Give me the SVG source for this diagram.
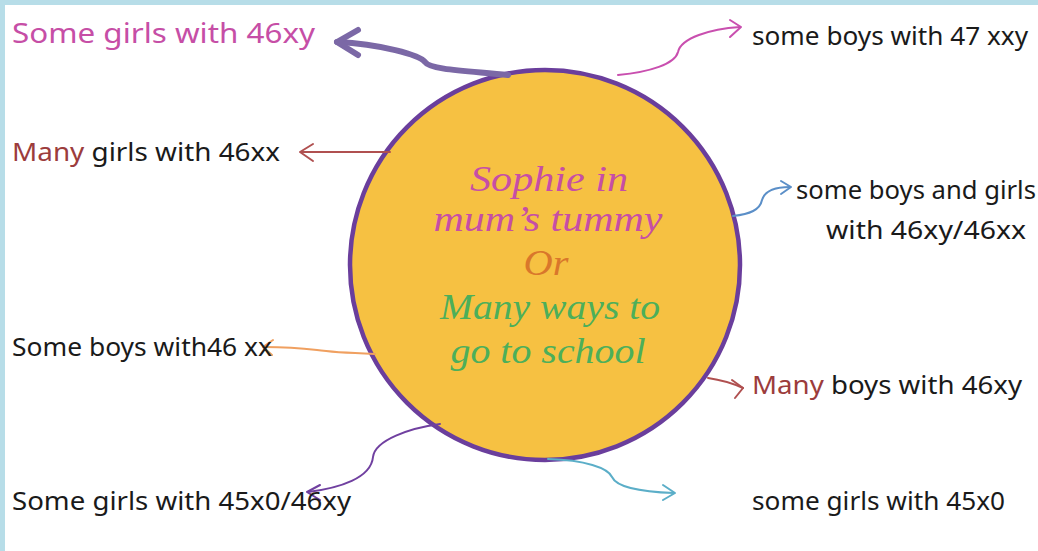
<svg xmlns="http://www.w3.org/2000/svg" width="1038" height="551" viewBox="0 0 1038 551">
<style>
.lbl{font-family:"Noto Sans","DejaVu Sans",sans-serif;font-size:25px;fill:#1a1a1a}
.big{font-size:28px;fill:#C64EA6}
.red{fill:#9C3C3C}
.ctr{font-family:"Liberation Serif","DejaVu Serif",serif;font-style:italic;font-size:36px;text-anchor:middle}
.conn{fill:none;stroke-linecap:round;stroke-linejoin:round}
</style>
<rect x="0" y="0" width="1038" height="551" fill="#B7DDE8"/>
<rect x="5" y="5" width="1033" height="546" fill="#FFFFFF"/>

<g id="hub">
<circle cx="545" cy="265" r="195" fill="#F6C142" stroke="#6A3E9C" stroke-width="4.5"/>
<text class="ctr" x="549" y="191" fill="#C64EA6" textLength="158" lengthAdjust="spacingAndGlyphs">Sophie in</text>
<text class="ctr" x="548" y="231" fill="#C64EA6" textLength="229" lengthAdjust="spacingAndGlyphs">mum’s tummy</text>
<text class="ctr" x="546" y="275" fill="#D9772B" textLength="45" lengthAdjust="spacingAndGlyphs">Or</text>
<text class="ctr" x="550" y="319" fill="#4CAF5A" textLength="220" lengthAdjust="spacingAndGlyphs">Many ways to</text>
<text class="ctr" x="548" y="363" fill="#4CAF5A" textLength="195" lengthAdjust="spacingAndGlyphs">go to school</text>
</g>

<g id="connectors">
<path class="conn" d="M508,75 C470,71 430,70 425,62 C420,55 380,44 337,42" stroke="#7B68A6" stroke-width="6"/>
<path class="conn" d="M358,30 L337,42 L358,55" stroke="#7B68A6" stroke-width="6"/>

<path class="conn" d="M618,75 C650,72 675,64 678,52 C681,38 710,29 740,27" stroke="#C94FAF" stroke-width="2"/>
<path class="conn" d="M730,20 L741,27 L730,37" stroke="#C94FAF" stroke-width="2"/>

<path class="conn" d="M390,152 L301,152" stroke="#B05050" stroke-width="2"/>
<path class="conn" d="M313,144 L300,152 L313,161" stroke="#B05050" stroke-width="2"/>

<path class="conn" d="M733,216 C750,214 760,210 762,200 C765,190 775,187 790,187" stroke="#5B8FC8" stroke-width="2"/>
<path class="conn" d="M781,181 L791,187 L781,194" stroke="#5B8FC8" stroke-width="2"/>

<path class="conn" d="M375,354 C350,353 330,352 317,350 C300,348 285,347 264,347" stroke="#F0A060" stroke-width="2"/>
<path class="conn" d="M273,340 L263,347 L272,355" stroke="#F0A060" stroke-width="2"/>

<path class="conn" d="M708,378 C722,380 732,383 743,388" stroke="#B05050" stroke-width="2"/>
<path class="conn" d="M732,380 L743,388 L735,398" stroke="#B05050" stroke-width="2"/>

<path class="conn" d="M440,424 C410,428 375,440 373,457 C371,478 340,488 308,492" stroke="#7040A0" stroke-width="2"/>
<path class="conn" d="M320,485 L307,492 L320,500" stroke="#7040A0" stroke-width="2"/>

<path class="conn" d="M548,459 C585,460 608,468 612,477 C617,488 645,492 674,493" stroke="#5BAEC8" stroke-width="2"/>
<path class="conn" d="M663,485 L675,493 L663,500" stroke="#5BAEC8" stroke-width="2"/>
</g>

<g id="n1"><text class="lbl big" x="12" y="43" textLength="303" lengthAdjust="spacingAndGlyphs">Some girls with 46xy</text></g>
<g id="n2"><text class="lbl" x="752" y="45" textLength="276" lengthAdjust="spacingAndGlyphs">some boys with 47 xxy</text></g>
<g id="n3"><text class="lbl" x="12" y="161" textLength="268" lengthAdjust="spacingAndGlyphs"><tspan class="red">Many</tspan> girls with 46xx</text></g>
<g id="n4"><text class="lbl" x="796" y="199" textLength="240" lengthAdjust="spacingAndGlyphs">some boys and girls</text>
<text class="lbl" x="826" y="239" textLength="200" lengthAdjust="spacingAndGlyphs">with 46xy/46xx</text></g>
<g id="n5"><text class="lbl" x="12" y="356" textLength="260" lengthAdjust="spacingAndGlyphs">Some boys with46 xx</text></g>
<g id="n6"><text class="lbl" x="752" y="394" textLength="270" lengthAdjust="spacingAndGlyphs"><tspan class="red">Many</tspan> boys with 46xy</text></g>
<g id="n7"><text class="lbl" x="12" y="510" textLength="339" lengthAdjust="spacingAndGlyphs">Some girls with 45x0/46xy</text></g>
<g id="n8"><text class="lbl" x="752" y="510" textLength="253" lengthAdjust="spacingAndGlyphs">some girls with 45x0</text></g>
</svg>
